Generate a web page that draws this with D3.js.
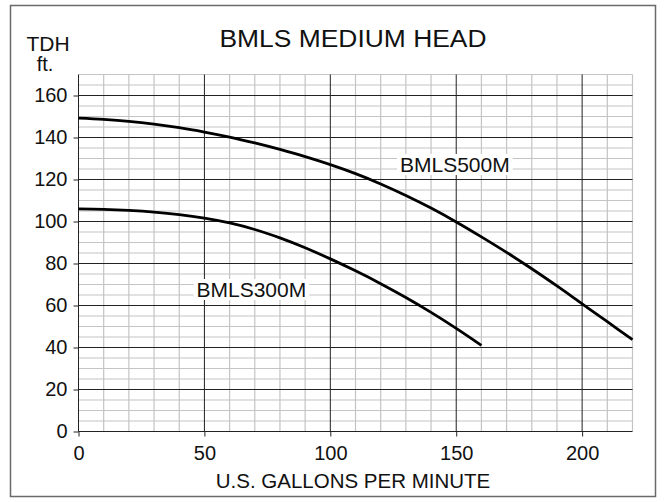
<!DOCTYPE html>
<html><head><meta charset="utf-8">
<script src="https://cdn.jsdelivr.net/npm/d3@7"></script>
<style>body{margin:0;background:#fff}svg{display:block}text{font-family:"Liberation Sans",Arial,sans-serif;fill:#111}</style>
</head><body>
<script>
const title = "BMLS MEDIUM HEAD";
const xLabel = "U.S. GALLONS PER MINUTE";
const yLabel1 = "TDH", yLabel2 = "ft.";
const flow500 = [0,10,20,30,40,50,60,70,80,90,100,110,120,130,140,150,160,170,180,190,200,210,220];
const head500 = [149.2,148.6,147.7,146.4,144.7,142.6,140.2,137.4,134.3,130.9,127.1,122.8,117.9,112.4,106.4,99.8,92.7,85.3,77.5,69.3,60.8,52.3,43.7];
const flow300 = [0,10,20,30,40,50,60,70,80,90,100,110,120,130,140,150,160];
const head300 = [106,105.8,105.3,104.5,103.3,101.6,99.3,96.2,92.2,87.5,82.2,76.5,70.4,63.8,56.7,49.1,41];
const seriesNames = ["BMLS500M","BMLS300M"];
const xTicks = [0,50,100,150,200];
const yTicks = [0,20,40,60,80,100,120,140,160];

const W=666,H=502;
const svg=d3.select("body").append("svg").attr("width",W).attr("height",H);
svg.append("rect").attr("x",10.5).attr("y",5.5).attr("width",645).attr("height",491)
  .attr("fill","#fff").attr("stroke","#6a6a6a").attr("stroke-width",1.5);

const x=d3.scaleLinear().domain([0,220]).range([78.5,632.5]);
const y=d3.scaleLinear().domain([0,170]).range([431.5,74.5]);

const g=svg.append("g");
// minor grid
g.selectAll(".vx").data(d3.range(0,221,10).filter(v=>v%50!==0)).join("line")
  .attr("x1",d=>x(d)).attr("x2",d=>x(d)).attr("y1",y(0)).attr("y2",y(170))
  .attr("stroke","#c4c4c4").attr("stroke-width",1.2);
g.selectAll(".hy").data(d3.range(0,171,5).filter(v=>v%20!==0||v>160)).join("line")
  .attr("y1",d=>y(d)).attr("y2",d=>y(d)).attr("x1",x(0)).attr("x2",x(220))
  .attr("stroke","#c4c4c4").attr("stroke-width",1.2);
// major grid
g.selectAll(".mx").data(xTicks).join("line")
  .attr("x1",d=>x(d)).attr("x2",d=>x(d)).attr("y1",y(0)).attr("y2",y(170))
  .attr("stroke","#222").attr("stroke-width",1);
g.selectAll(".my").data(yTicks).join("line")
  .attr("y1",d=>y(d)).attr("y2",d=>y(d)).attr("x1",x(0)).attr("x2",x(220))
  .attr("stroke","#222").attr("stroke-width",1);

// axes
const xa=svg.append("g").attr("transform",`translate(0,${y(0)})`)
  .call(d3.axisBottom(x).tickValues(xTicks).tickSize(5).tickPadding(4));
const ya=svg.append("g").attr("transform",`translate(${x(0)},0)`)
  .call(d3.axisLeft(y).tickValues(yTicks).tickSize(5).tickPadding(6));
[xa,ya].forEach(a=>{a.select(".domain").remove();
  a.selectAll(".tick line").attr("stroke","#222");
  a.selectAll("text").style("font-size","20px").attr("fill","#111").style("font-family","'Liberation Sans',Arial,sans-serif");});
xa.selectAll("text").attr("dy","0.95em");

// curves
const line=d3.line().x(d=>x(d[0])).y(d=>y(d[1])).curve(d3.curveCatmullRom.alpha(0.5));
const d500=flow500.map((f,i)=>[f,head500[i]]);
const d300=flow300.map((f,i)=>[f,head300[i]]);
[d500,d300].forEach(d=>svg.append("path").attr("d",line(d)).attr("fill","none")
  .attr("stroke","#000").attr("stroke-width",2.8).attr("stroke-linejoin","round"));

// series labels with white boxes
function label(txt,px,py){
  const t=svg.append("text").attr("x",px).attr("y",py).style("font-size","21px").text(txt);
  const b=t.node().getBBox();
  svg.insert("rect",()=>t.node()).attr("x",b.x-3).attr("y",b.y+1).attr("width",b.width+6).attr("height",b.height-2).attr("fill","#fff");
}
label(seriesNames[0],400,172);
label(seriesNames[1],196.5,297);

// titles
svg.append("text").attr("x",353).attr("y",46.7).attr("text-anchor","middle")
  .style("font-size","24.5px").attr("textLength",267).attr("lengthAdjust","spacingAndGlyphs").text(title);
svg.append("text").attr("x",48).attr("y",51).attr("text-anchor","middle").style("font-size","21px").text(yLabel1);
svg.append("text").attr("x",45).attr("y",71).attr("text-anchor","middle").style("font-size","20px").text(yLabel2);
svg.append("text").attr("x",353).attr("y",488).attr("text-anchor","middle").style("font-size","20.5px").text(xLabel);
</script>
</body></html>
